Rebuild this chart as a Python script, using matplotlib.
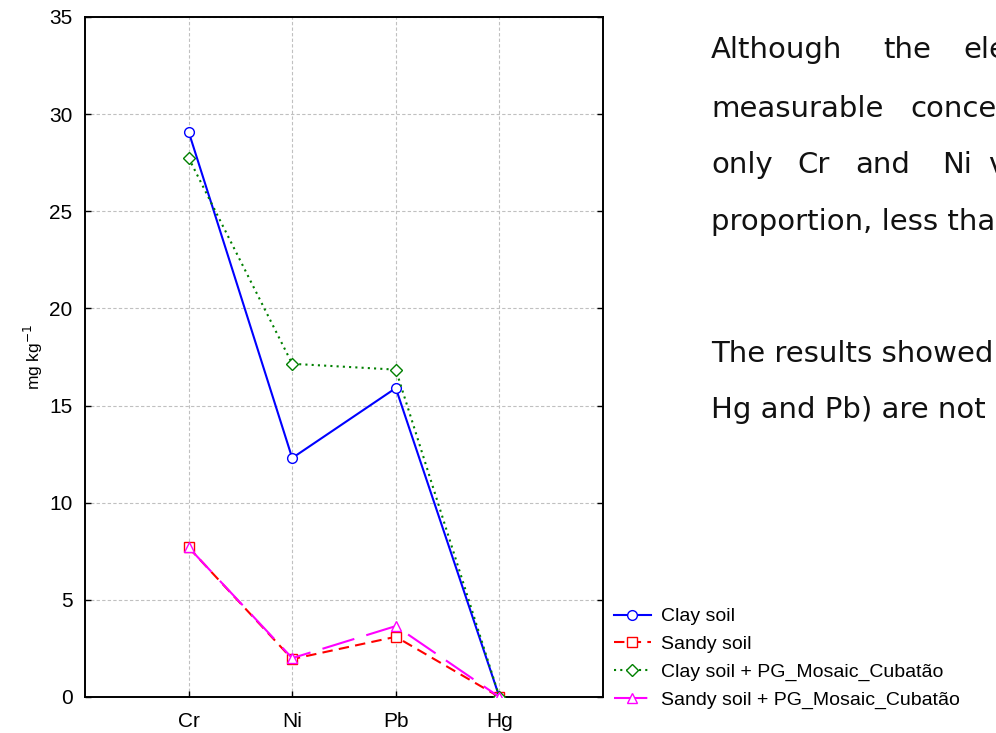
import matplotlib
matplotlib.use("Agg")
import matplotlib.pyplot as plt

categories = ["Cr", "Ni", "Pb", "Hg"]
clay = [29.1, 12.3, 15.9, 0.0]
sandy = [7.7, 1.95, 3.1, 0.0]
clay_pg = [27.75, 17.15, 16.85, 0.0]
sandy_pg = [7.7, 2.0, 3.65, 0.0]
labels = ["Clay soil", "Sandy soil", "Clay soil + PG_Mosaic_Cubatão", "Sandy soil + PG_Mosaic_Cubatão"]
yticks = [0, 5, 10, 15, 20, 25, 30, 35]

plt.rcParams['font.family'] = ['Liberation Sans', 'DejaVu Sans']

fig = plt.figure(figsize=(9.96, 7.33), dpi=100)
ax = fig.add_axes([85/996, 1-697/733, (603-85)/996, (697-17)/733])

x = list(range(len(categories)))
ax.plot(x, clay, color='#0000ff', lw=1.5, ls='-', marker='o', ms=7, mfc='white', mec='#0000ff', label=labels[0], zorder=3)
ax.plot(x, sandy, color='#ff0000', lw=1.5, ls=(0, (5, 3)), marker='s', ms=7, mfc='white', mec='#ff0000', label=labels[1], zorder=3)
ax.plot(x, clay_pg, color='#008000', lw=1.5, ls=(0, (1, 2)), marker='D', ms=6, mfc='white', mec='#008000', label=labels[2], zorder=3)
ax.plot(x, sandy_pg, color='#ff00ff', lw=1.5, ls=(0, (16, 6)), marker='^', ms=7, mfc='white', mec='#ff00ff', label=labels[3], zorder=3)

ax.set_xlim(-1, 4)
ax.set_ylim(0, 35)
ax.set_xticks(x)
ax.set_xticklabels(categories, fontsize=15)
ax.set_yticks(yticks)
ax.set_yticklabels([str(v) for v in yticks], fontsize=15)
ax.tick_params(direction='in', length=4, width=1, top=False, right=True)
ax.tick_params(axis='y', pad=9)
ax.tick_params(axis='x', pad=11)
ax.grid(True, color='#c0c0c0', ls=(0, (3, 2)), lw=0.8)
ax.set_axisbelow(True)
for s in ax.spines.values():
    s.set_linewidth(1.4)
    s.set_color('black')
ax.set_ylabel("mg kg$^{-1}$", fontsize=12.5, labelpad=3)

fig.legend(loc='lower left', bbox_to_anchor=(614/996, 1-709/733), frameon=False,
           fontsize=14, handlelength=1.9, handletextpad=0.5, labelspacing=0.52,
           borderaxespad=0, borderpad=0)

tfont = dict(fontsize=21, family=['DejaVu Sans'], color='#111111', va='baseline', ha='left')
def px(xp, yp):
    return xp/996, 1-yp/733

# justified paragraph lines, cut off at the right edge as in the reference
for w, xp in [("Although", 711), ("the", 883), ("ele", 963)]:
    fig.text(*px(xp, 58), w, **tfont)
for w, xp in [("measurable", 711), ("conce", 910)]:
    fig.text(*px(xp, 117), w, **tfont)
for w, xp in [("only", 711), ("Cr", 797), ("and", 855), ("Ni", 942), ("v", 988)]:
    fig.text(*px(xp, 173), w, **tfont)
fig.text(*px(711, 230), "proportion, less tha", **tfont)
fig.text(*px(711, 362), "The results showed", **tfont)
fig.text(*px(711, 418), "Hg and Pb) are not", **tfont)

fig.savefig("out.png", dpi=100)
